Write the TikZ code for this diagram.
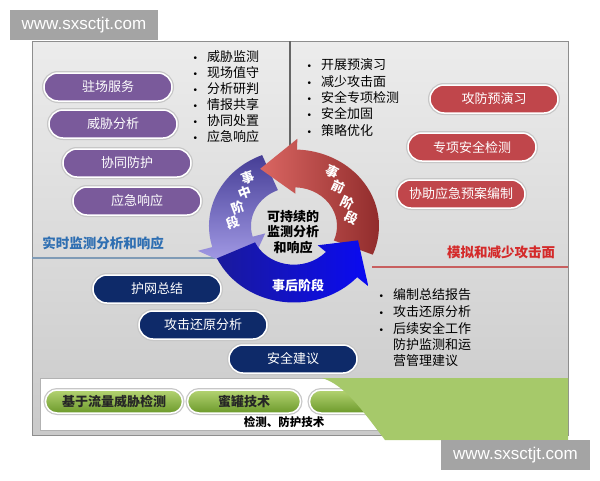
\documentclass[tikz,border=0pt]{standalone}
\usepackage{fontspec}
\setmainfont{Noto Sans CJK SC}
\newfontfamily\wmfont{Liberation Sans}
\usetikzlibrary{
	positioning,
	shapes.misc,
	shadings,
}
\definecolor{panel top}{HTML}{ECECEC}
\definecolor{panel bottom}{HTML}{CACACA}
\definecolor{panel edge}{HTML}{8E8E8E}
\definecolor{pill purple}{HTML}{7A5A9B}
\definecolor{pill red}{HTML}{C0464B}
\definecolor{pill navy}{HTML}{0E2A69}
\definecolor{pill green top}{HTML}{B4D372}
\definecolor{pill green bottom}{HTML}{6C9A2B}
\definecolor{green zone}{HTML}{A6C96A}
\definecolor{head blue}{HTML}{2F6FB2}
\definecolor{head red}{HTML}{D42A2A}
\definecolor{line blue}{HTML}{7F9BB6}
\definecolor{line red}{HTML}{C85F5F}
\definecolor{mark gray}{HTML}{A4A4A4}
\definecolor{ring purple dark}{HTML}{463E96}
\definecolor{ring purple light}{HTML}{ACA4EE}
\definecolor{ring red light}{HTML}{DA6662}
\definecolor{ring red dark}{HTML}{8E2A2A}
\definecolor{ring blue dark}{HTML}{1A1A9C}
\definecolor{ring blue light}{HTML}{0A0AF2}
\tikzset{pill/.style={rounded rectangle,minimum width=128pt,minimum height=28pt,inner sep=0pt,draw=white,line width=1.5pt,preaction={draw=black!22,line width=4pt},text=white,font=\fontsize{13}{15}\selectfont,}}
\tikzset{purple pill/.style={pill,fill=pill purple,}}
\tikzset{red pill/.style={pill,fill=pill red,}}
\tikzset{navy pill/.style={pill,fill=pill navy,}}
\tikzset{green pill/.style={pill,minimum height=23pt,top color=pill green top,bottom color=pill green bottom,text=black!85,font=\bfseries\fontsize{13}{15}\selectfont,}}
\tikzset{item/.style={anchor=west,inner sep=0pt,font=\fontsize{13}{15}\selectfont,execute at begin node={\llap{{\wmfont\fontsize{10}{10}\selectfont •}\hspace{10pt}}},}}
\tikzset{item cont/.style={anchor=west,inner sep=0pt,font=\fontsize{13}{15}\selectfont,}}
\tikzset{ring text/.style={inner sep=0pt,text=white,font=\bfseries\fontsize{13}{15}\selectfont,}}
\tikzset{webmark/.style={fill=mark gray,text=white,minimum width=148pt,minimum height=30pt,inner sep=0pt,font=\wmfont\fontsize{17}{17}\selectfont,}}

\begin{document}
\begin{tikzpicture}[x=1pt, y=-1pt]

\useasboundingbox (0,0) rectangle (600,480);

% panel and dividers
\shade[top color=panel top, bottom color=panel bottom, draw=panel edge, line width=1pt] (32,41) rectangle (568,435);
\draw[line width=1.2pt, black!60] (290,41) -- (290,170);
\draw[line width=2.5pt, line blue] (32,258) -- (215,258);
\draw[line width=2pt, line red] (372,267) -- (568,267);

% left column
\foreach \t/\x/\y [count=\i] in {驻场服务/108/87, 威胁分析/113/124, 协同防护/127/163, 应急响应/137/201}{
	\node[purple pill] (svc\i) at (\x,\y) {\t};
}

\foreach \t [count=\i] in {威胁监测,现场值守,分析研判,情报共享,协同处置,应急响应}{
	\node[item] (mon\i) at (207,41+16*\i) {\t};
}

\node[text=head blue, font=\bfseries\fontsize{13.5}{15}\selectfont] (rt head) at (103,243) {实时监测分析和响应};

% right column
\foreach \t [count=\i] in {开展预演习,减少攻击面,安全专项检测,安全加固,策略优化}{
	\node[item] (pre\i) at (321,48.7+16.3*\i) {\t};
}

\foreach \t/\x/\y [count=\i] in {攻防预演习/494/99, 专项安全检测/472/147, 协助应急预案编制/461/194}{
	\node[red pill] (drill\i) at (\x,\y) {\t};
}

\node[text=head red, font=\bfseries\fontsize{13.5}{15}\selectfont] (sim head) at (501,252) {模拟和减少攻击面};

% cycle
\def\ro{85}
\def\ri{43}
\begin{scope}[shift={(294,226)}, yscale=-0.9]
	\path[top color=ring purple dark, bottom color=ring purple light] (112:\ro) arc[start angle=112, end angle=196, radius=\ro] -- (196:100) -- (228:70) -- (196:30) -- (196:\ri) arc[start angle=196, end angle=112, radius=\ri] -- cycle;
	\path[left color=ring red light, right color=ring red dark] (-22:\ro) arc[start angle=-22, end angle=88, radius=\ro] -- (88:97) -- (118:72) -- (88:36) -- (88:\ri) arc[start angle=88, end angle=-22, radius=\ri] -- cycle;
	\path[left color=ring blue dark, right color=ring blue light] (205:\ro) arc[start angle=205, end angle=318, radius=\ro] -- (318:100) -- (346:66) -- (318:32) -- (318:\ri) arc[start angle=318, end angle=205, radius=\ri] -- cycle;
\end{scope}

\foreach \t/\x/\y [count=\i] in {事/332/172, 前/338/187, 阶/347/203, 段/352/218}{
	\node[ring text, rotate=-25] (before\i) at (\x,\y) {\t};
}
\foreach \t/\x/\y [count=\i] in {事/248/178, 中/245/193, 阶/238/208, 段/233/223}{
	\node[ring text, rotate=20] (during\i) at (\x,\y) {\t};
}
\node[ring text] (after) at (298,285) {事后阶段};
\node[align=center, inner sep=0pt, font=\bfseries\fontsize{13}{15.5}\selectfont] (core) at (293,232) {可持续的\\监测分析\\和响应};

% bottom
\foreach \t/\x/\y [count=\i] in {护网总结/157/289, 攻击还原分析/203/325, 安全建议/293/359}{
	\node[navy pill] (wrap\i) at (\x,\y) {\t};
}

\foreach \t [count=\i] in {编制总结报告,攻击还原分析,后续安全工作}{
	\node[item] (rep\i) at (393,278.5+16.5*\i) {\t};
}
\node[item cont] (rep4) at (393,344.5) {防护监测和运};
\node[item cont] (rep5) at (393,361) {营管理建议};

% technique strip
\draw[fill=white, draw=black!30] (40,378) rectangle (560,430);
\node[green pill, minimum width=137pt] (tech1) at (114,401.5) {基于流量威胁检测};
\node[green pill, minimum width=113pt] (tech2) at (244,401.5) {蜜罐技术};
\node[green pill, minimum width=113pt] (tech3) at (366,401.5) {};
\node[inner sep=0pt, font=\bfseries\fontsize{11.5}{13}\selectfont] (tech head) at (284,422) {检测、防护技术};
\fill[green zone] (322,378) -- (568,378) -- (568,440) -- (385,440) .. controls (362,410) and (345,385) .. (322,378) -- cycle;

% web marks
\node[webmark] (mark1) at (84,25) {www.sxsctjt.com};
\node[webmark, minimum width=149pt] (mark2) at (515.5,455) {www.sxsctjt.com};

\end{tikzpicture}
\end{document}
